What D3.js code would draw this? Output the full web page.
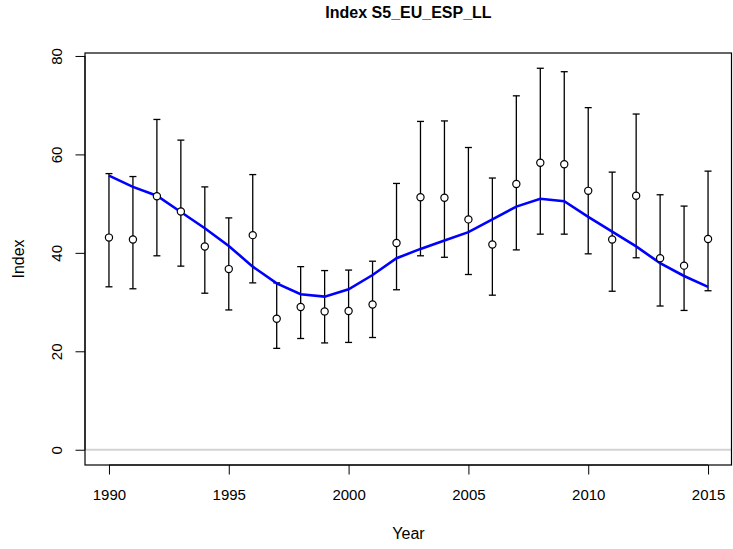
<!DOCTYPE html>
<html>
<head>
	<title>Index S5_EU_ESP_LL</title>
	<style>
		body { margin: 0; background: #fff; }
		svg text { font-family: "Liberation Sans", Arial, sans-serif; fill: #000; }
		.axis path, .axis line { stroke: #000; }
		.bar { stroke: #000; stroke-width: 1.3px; }
		.fit { fill: none; stroke: #0000ff; stroke-width: 2.6px; }
		.pt { fill: #fff; stroke: #000; stroke-width: 1.2px; }
	</style>
</head>
<body>
	<div id="chart"></div>
	<script src="https://cdn.jsdelivr.net/npm/d3@7"></script>
	<script>
		// values
		var years = [1990, 1991, 1992, 1993, 1994, 1995, 1996, 1997, 1998, 1999, 2000, 2001, 2002,
					 2003, 2004, 2005, 2006, 2007, 2008, 2009, 2010, 2011, 2012, 2013, 2014, 2015];
		var observed = [43.1, 42.7, 51.5, 48.4, 41.3, 36.7, 43.6, 26.6, 29.0, 28.1, 28.2, 29.5, 42.0,
						51.3, 51.2, 46.8, 41.7, 54.0, 58.3, 58.0, 52.6, 42.7, 51.6, 38.9, 37.4, 42.8];
		var upper = [56.1, 55.5, 67.1, 62.9, 53.4, 47.1, 55.9, 33.9, 37.2, 36.4, 36.5, 38.3, 54.1,
					 66.7, 66.8, 61.4, 55.2, 71.9, 77.5, 76.8, 69.5, 56.4, 68.2, 51.8, 49.5, 56.6];
		var lower = [33.1, 32.7, 39.4, 37.3, 31.8, 28.4, 33.9, 20.6, 22.6, 21.7, 21.8, 22.8, 32.5,
					 39.4, 39.1, 35.6, 31.4, 40.6, 43.8, 43.8, 39.8, 32.2, 39.0, 29.2, 28.3, 32.3];
		var fitted = [55.7, 53.4, 51.6, 48.3, 45.0, 41.4, 37.2, 33.8, 31.6, 31.1, 32.6, 35.5, 38.9,
					  40.8, 42.5, 44.2, 46.8, 49.4, 51.0, 50.5, 47.3, 44.3, 41.3, 37.9, 35.3, 33.1];
		var xTicks = [1990, 1995, 2000, 2005, 2010, 2015];
		var yTicks = [0, 20, 40, 60, 80];

		var width = 733, height = 549;
		var margin = { top: 53, right: 1, bottom: 84, left: 85 };

		var svg = d3.select('#chart').append('svg')
			.attr('width', width)
			.attr('height', height);

		// R style 4% padding around the data range
		var x = d3.scaleLinear()
			.domain([1989, 2016])
			.range([margin.left, width - margin.right]);

		var yMax = d3.max(upper);
		var pad = yMax * 0.04;
		var y = d3.scaleLinear()
			.domain([-pad, yMax + pad])
			.range([height - margin.bottom, margin.top]);

		// zero reference line
		svg.append('line')
			.attr('x1', x.range()[0]).attr('x2', x.range()[1])
			.attr('y1', y(0)).attr('y2', y(0))
			.attr('stroke', '#d3d3d3').attr('stroke-width', 2);

		// error bars
		var bars = svg.append('g').selectAll('g').data(years).enter().append('g');
		bars.append('line').attr('class', 'bar')
			.attr('x1', function (d) { return x(d); })
			.attr('x2', function (d) { return x(d); })
			.attr('y1', function (d, i) { return y(lower[i]); })
			.attr('y2', function (d, i) { return y(upper[i]); });
		[upper, lower].forEach(function (arr) {
			bars.append('line').attr('class', 'bar')
				.attr('x1', function (d) { return x(d) - 3.5; })
				.attr('x2', function (d) { return x(d) + 3.5; })
				.attr('y1', function (d, i) { return y(arr[i]); })
				.attr('y2', function (d, i) { return y(arr[i]); });
		});

		// fitted line
		var lineFn = d3.line()
			.x(function (d) { return x(d); })
			.y(function (d, i) { return y(fitted[i]); });
		svg.append('path').datum(years).attr('class', 'fit').attr('d', lineFn);

		// observed points
		svg.append('g').selectAll('circle').data(years).enter().append('circle')
			.attr('class', 'pt')
			.attr('cx', function (d) { return x(d); })
			.attr('cy', function (d, i) { return y(observed[i]); })
			.attr('r', 3.6);

		// box
		svg.append('rect')
			.attr('x', x.range()[0]).attr('y', y.range()[1])
			.attr('width', x.range()[1] - x.range()[0] - 0.5)
			.attr('height', y.range()[0] - y.range()[1])
			.attr('fill', 'none').attr('stroke', '#000').attr('stroke-width', 1.2);

		// axes
		var xAxis = svg.append('g').attr('class', 'axis')
			.attr('transform', 'translate(0,' + y.range()[0] + ')')
			.call(d3.axisBottom(x).tickValues(xTicks).tickFormat(d3.format('d')).tickSize(9.5).tickSizeOuter(0));
		xAxis.select('.domain').attr('d', 'M' + x(1990) + ',0H' + x(2015));
		xAxis.selectAll('text').attr('font-size', 15).attr('y', 24).attr('dy', '0.71em');

		var yAxis = svg.append('g').attr('class', 'axis')
			.attr('transform', 'translate(' + x.range()[0] + ',0)')
			.call(d3.axisLeft(y).tickValues(yTicks).tickSize(9.5).tickSizeOuter(0));
		yAxis.select('.domain').attr('d', 'M0,' + y(0) + 'V' + y(80));
		// tick groups are already shifted to y(d); just rotate the labels in place
		yAxis.selectAll('text')
			.attr('font-size', 15)
			.attr('text-anchor', 'middle')
			.attr('transform', 'translate(-28,0) rotate(-90)')
			.attr('x', 0).attr('y', 0).attr('dy', '0.35em');

		// titles
		svg.append('text')
			.attr('x', (x.range()[0] + x.range()[1]) / 2).attr('y', 18)
			.attr('text-anchor', 'middle')
			.attr('font-weight', 'bold').attr('font-size', 16)
			.text('Index S5_EU_ESP_LL');
		svg.append('text')
			.attr('x', (x.range()[0] + x.range()[1]) / 2).attr('y', 539)
			.attr('text-anchor', 'middle').attr('font-size', 16)
			.text('Year');
		svg.append('text')
			.attr('transform', 'translate(24,' + (y.range()[0] + y.range()[1]) / 2 + ') rotate(-90)')
			.attr('text-anchor', 'middle').attr('font-size', 16)
			.text('Index');
	</script>
</body>
</html>
